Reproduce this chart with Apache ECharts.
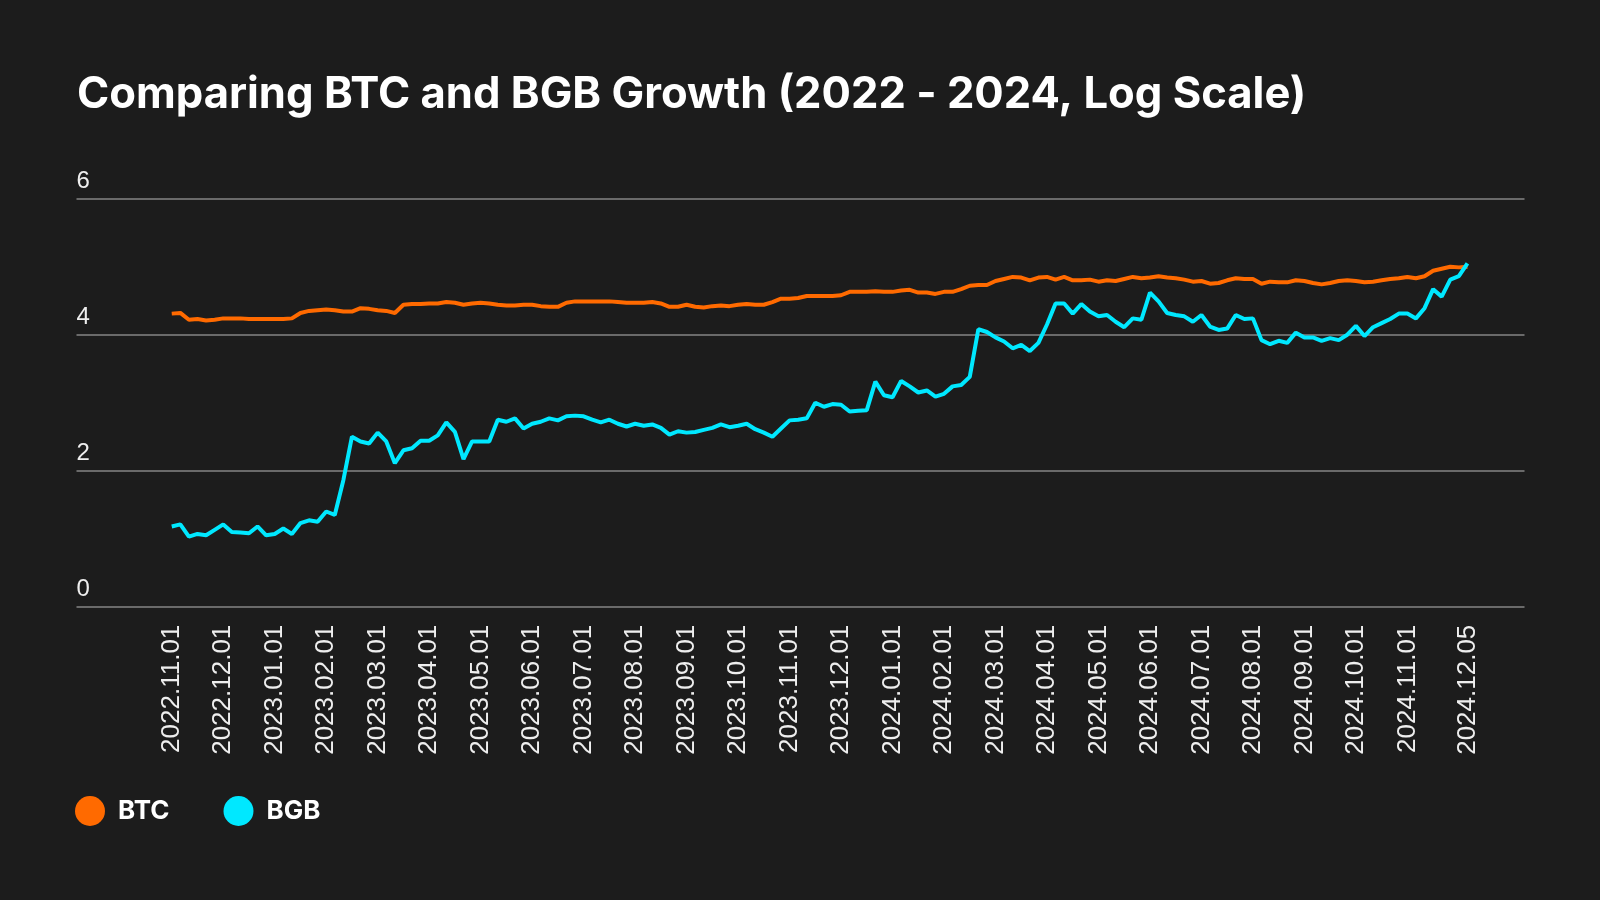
<!DOCTYPE html>
<html><head><meta charset="utf-8">
<script src="https://cdn.jsdelivr.net/npm/echarts@6/dist/echarts.min.js"></script>
<style>html,body{margin:0;padding:0;background:#1c1c1c;}#c{width:1600px;height:900px;}</style>
</head><body><div id="c"></div>
<script>
const months = ['2022.11','2022.12','2023.01','2023.02','2023.03','2023.04','2023.05','2023.06','2023.07','2023.08','2023.09','2023.10','2023.11','2023.12','2024.01','2024.02','2024.03','2024.04','2024.05','2024.06','2024.07','2024.08','2024.09','2024.10','2024.11'];
const sampleDays = ['01','06','11','16','21','26'];
const extraDates = ['2024.12.01','2024.12.05'];
const tickLabels = ['2022.11.01','2022.12.01','2023.01.01','2023.02.01','2023.03.01','2023.04.01','2023.05.01','2023.06.01','2023.07.01','2023.08.01','2023.09.01','2023.10.01','2023.11.01','2023.12.01','2024.01.01','2024.02.01','2024.03.01','2024.04.01','2024.05.01','2024.06.01','2024.07.01','2024.08.01','2024.09.01','2024.10.01','2024.11.01','2024.12.05'];
const yTicks = [0, 2, 4, 6];

const btc = [
4.31,4.32,4.22,4.23,4.21,4.22,4.24,4.24,4.24,4.23,4.23,4.23,4.23,4.23,4.24,4.32,4.35,4.36,4.37,4.36,4.34,4.34,4.39,4.38,4.36,4.35,
4.32,4.44,4.45,4.45,4.46,4.46,4.48,4.47,4.44,4.46,4.47,4.46,4.44,4.43,4.43,4.44,4.44,4.42,4.41,4.41,4.47,4.49,4.49,4.49,4.49,4.49,
4.48,4.47,4.47,4.47,4.48,4.46,4.41,4.41,4.44,4.41,4.40,4.42,4.43,4.42,4.44,4.45,4.44,4.44,4.48,4.53,4.53,4.54,4.57,4.57,4.57,
4.57,4.58,4.63,4.63,4.63,4.64,4.63,4.63,4.65,4.66,4.62,4.62,4.60,4.63,4.63,4.67,4.72,4.73,4.73,4.79,4.82,4.85,4.84,4.80,4.84,4.85,
4.81,4.85,4.80,4.80,4.81,4.78,4.80,4.79,4.82,4.85,4.83,4.84,4.86,4.84,4.83,4.81,4.78,4.79,4.75,4.76,4.80,4.83,4.82,4.82,4.75,
4.78,4.77,4.77,4.80,4.79,4.76,4.74,4.76,4.79,4.80,4.79,4.77,4.78,4.80,4.82,4.83,4.85,4.83,4.86,4.94,4.97,5.00,4.99,5.00
];
const bgb = [
1.18,1.21,1.03,1.07,1.05,1.13,1.21,1.10,1.09,1.08,1.18,1.05,1.07,1.15,1.07,1.23,1.27,1.25,1.40,1.35,1.86,2.50,2.43,2.40,2.56,2.43,
2.11,2.30,2.33,2.44,2.44,2.52,2.71,2.57,2.17,2.43,2.43,2.43,2.75,2.72,2.77,2.62,2.69,2.72,2.77,2.74,2.80,2.81,2.80,2.75,2.71,2.75,
2.69,2.65,2.69,2.66,2.68,2.63,2.53,2.58,2.56,2.57,2.60,2.63,2.68,2.64,2.66,2.69,2.61,2.56,2.50,2.62,2.74,2.75,2.77,3.00,2.94,
2.98,2.97,2.87,2.88,2.89,3.31,3.11,3.08,3.32,3.24,3.15,3.18,3.09,3.13,3.24,3.26,3.38,4.08,4.04,3.96,3.90,3.80,3.85,3.76,3.88,4.15,
4.46,4.46,4.31,4.45,4.34,4.27,4.29,4.19,4.11,4.24,4.22,4.62,4.49,4.32,4.29,4.27,4.19,4.29,4.12,4.07,4.09,4.29,4.23,4.24,3.92,
3.86,3.91,3.88,4.03,3.96,3.96,3.91,3.95,3.92,4.00,4.13,3.98,4.11,4.17,4.23,4.31,4.31,4.24,4.39,4.67,4.56,4.81,4.86,5.05
];

const dates = [];
months.forEach(m => sampleDays.forEach(d => dates.push(m + '.' + d)));
extraDates.forEach(d => dates.push(d));
const tickIdx = tickLabels.map(t => dates.indexOf(t));

const chart = echarts.init(document.getElementById('c'), null, {renderer: 'canvas'});
chart.setOption({
  backgroundColor: '#1c1c1c',
  animation: false,
  title: {
    text: 'Comparing BTC and BGB Growth (2022 - 2024, Log Scale)',
    left: 72, top: 68,
    textStyle: {color: '#ffffff', fontSize: 43.6, fontWeight: 700, fontFamily: 'Inter'}
  },
  legend: {
    left: 70, top: 791,
    icon: 'circle', itemWidth: 30, itemHeight: 30, itemGap: 54,
    textStyle: {color: '#ffffff', fontSize: 26, fontWeight: 700, fontFamily: 'Inter', padding: [0, 0, 0, 8]},
    data: ['BTC', 'BGB']
  },
  grid: {left: 76.5, right: 75.5, top: 198.7, bottom: 293.3, containLabel: false},
  xAxis: {
    type: 'value',
    min: -11.1, max: 157.65,
    axisLine: {show: false}, axisTick: {show: false}, splitLine: {show: false},
    axisLabel: {
      customValues: tickIdx,
      rotate: 90, margin: 18,
      color: '#eeeeee', fontSize: 26, fontFamily: 'Liberation Sans',
      formatter: v => dates[Math.round(v)]
    }
  },
  yAxis: {
    type: 'value', min: yTicks[0], max: yTicks[yTicks.length - 1], interval: 2,
    axisLine: {show: false}, axisTick: {show: false},
    splitLine: {lineStyle: {color: '#6a6a6a', width: 2}},
    axisLabel: {
      inside: true, margin: 0, verticalAlign: 'bottom', padding: [0, 0, 5, 0],
      color: '#eeeeee', fontSize: 24, fontFamily: 'Liberation Sans'
    }
  },
  series: [
    {name: 'BTC', type: 'line', showSymbol: false, color: '#ff6a00',
     lineStyle: {width: 4, color: '#ff6a00'},
     data: dates.map((d, i) => [i, btc[i]])},
    {name: 'BGB', type: 'line', showSymbol: false, color: '#00e8ff',
     lineStyle: {width: 4, color: '#00e8ff'},
     data: dates.map((d, i) => [i, bgb[i]])}
  ]
});
</script></body></html>
